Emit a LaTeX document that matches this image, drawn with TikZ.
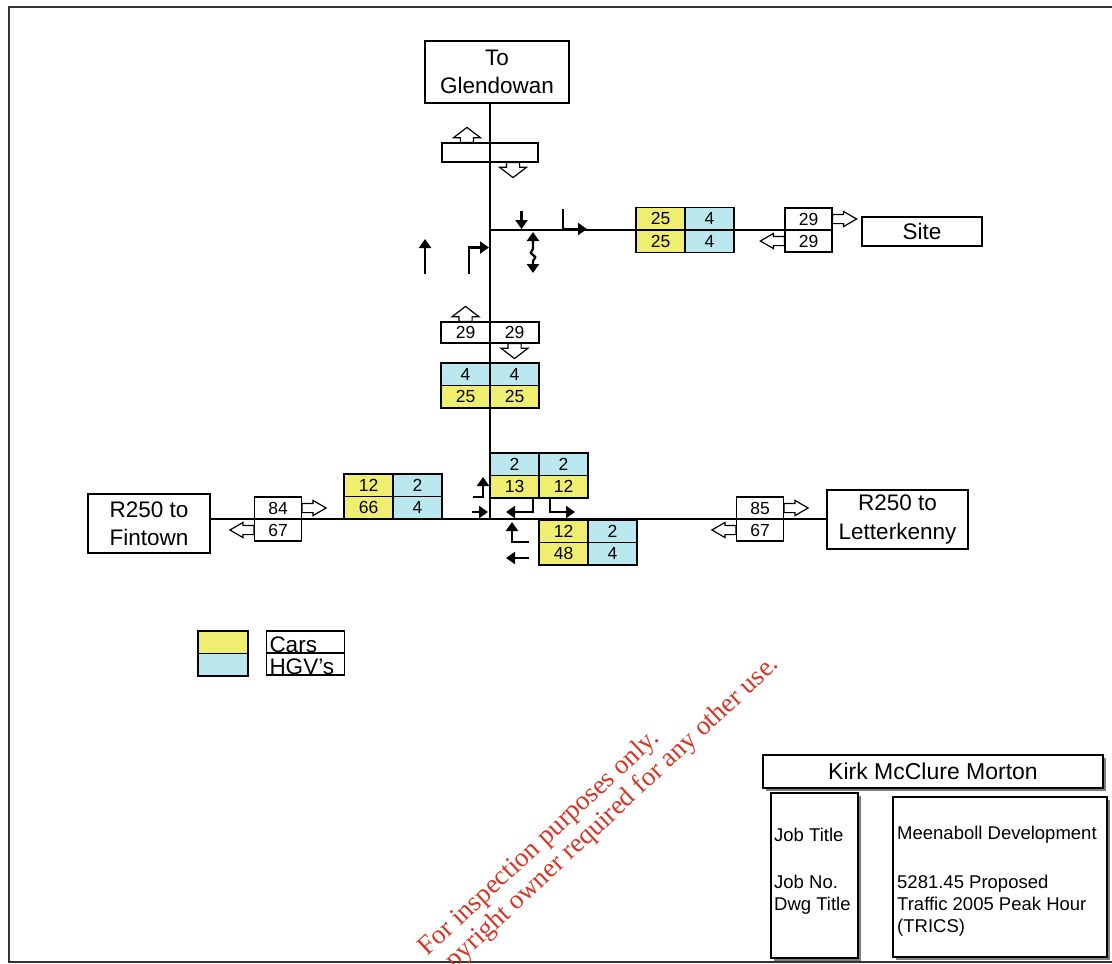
\documentclass[tikz,border=0pt]{standalone}
\usepackage{fontspec}
\setmainfont{Liberation Sans}
\newfontfamily\stampfont{Liberation Serif}
\usepackage{tikz}
\usetikzlibrary{arrows.meta,positioning,shapes.arrows,shadows,calc}
\definecolor{carfill}{RGB}{240,238,112}
\definecolor{hgvfill}{RGB}{186,232,238}
\definecolor{stampred}{RGB}{214,52,36}
\newcommand{\numfont}{\fontsize{17.5}{20}\selectfont}
\newcommand{\lblfont}{\fontsize{22.5}{28.5}\selectfont}
\newcommand{\tbfont}{\fontsize{18.5}{22}\selectfont}

\begin{document}
\begin{tikzpicture}[
      x=1pt, y=-1pt, node distance=0pt,
      road/.style={line width=1.3pt},
      place/.style={draw, line width=1.3pt, inner sep=0pt, align=center, font=\lblfont},
      cell/.style={draw, line width=1.8pt, minimum width=49pt, minimum height=22.5pt, inner sep=0pt, outer sep=0pt, font=\numfont},
      car/.style={cell, fill=carfill},
      hgv/.style={cell, fill=hgvfill},
      flow/.style={draw, line width=1.1pt, minimum width=47pt, minimum height=22pt, inner sep=0pt, outer sep=0pt, font=\numfont},
      harrow/.style={single arrow, draw, fill=white, line width=1.2pt, inner xsep=0pt, single arrow head indent=0pt, anchor=tail},
      hflow/.style={harrow, inner ysep=4pt, single arrow head extend=3pt, single arrow tip angle=60, minimum height=24pt},
      vflow/.style={harrow, inner ysep=6pt, single arrow head extend=7pt, single arrow tip angle=105, minimum height=15pt},
      mv/.style={line width=2.2pt, -{Triangle[length=9pt, width=12pt]}},
      key/.style={draw, line width=1.3pt, text width=72pt, inner xsep=3pt, inner ysep=0.5pt, text height=21pt, text depth=0pt, outer sep=0pt, align=left, font=\lblfont},
      tbox/.style={draw, line width=1.2pt, fill=white, drop shadow={shadow xshift=2.5pt, shadow yshift=-2.5pt, fill=black!50, opacity=1}},
      tbtext/.style={inner sep=0pt, anchor=west, align=left, font=\tbfont},
      stamp/.style={text=stampred, font=\stampfont\fontsize{27}{32}\selectfont, rotate=43, inner sep=0pt}
    ]
  \useasboundingbox (0,0) rectangle (1112,964);
  \draw[line width=1.5pt, black!80] (1130,7) -- (9,7) -- (9,962) -- (1130,962);

  % destinations
  \node[place, minimum width=144pt, minimum height=62pt] (glen) at (497,72) {To\\Glendowan};
  \node[place, minimum width=120pt, minimum height=29pt] (site) at (922,231.5) {Site};
  \node[place, minimum width=122pt, minimum height=59pt] (fin) at (149,523.5) {R250 to\\Fintown};
  \node[place, minimum width=141pt, minimum height=59pt] (lk) at (897.5,519.5) {R250 to\\Letterkenny};

  \coordinate (jn) at (490,519);
  \coordinate (sj) at (490,230);

  % link totals
  \node[flow] (s29a) at (808.5,219) {29};
  \node[flow, below=of s29a] (s29b) {29};
  \node[flow] (f84) at (278,508) {84};
  \node[flow, below=of f84] (f67) {67};
  \node[flow] (l85) at (760,508) {85};
  \node[flow, below=of l85] (l67) {67};

  % roads
  \draw[road] (glen.south -| jn) -- (jn);
  \draw[road] (sj) -- (s29a.south west);
  \draw[road] (fin.east |- jn) -- (lk.west |- jn);

  \node[hflow] (s29out) at (s29a.east) {};
  \node[hflow, rotate=180] (s29in) at (s29b.west) {};
  \node[hflow] (f84out) at (f84.east) {};
  \node[hflow, rotate=180] (f67in) at (f67.west) {};
  \node[hflow] (l85out) at (l85.east) {};
  \node[hflow, rotate=180] (l67in) at (l67.west) {};

  % north link
  \node[draw, line width=1.2pt, minimum width=96pt, minimum height=19pt, inner sep=0pt, outer sep=0pt] (gflow) at (490,152.5) {};
  \node[vflow, rotate=90] (gup) at ($(gflow.north west)!0.26!(gflow.north east)$) {};
  \node[vflow, rotate=-90] (gdn) at ($(gflow.south west)!0.74!(gflow.south east)$) {};

  \node[flow, minimum width=49pt, minimum height=21pt] (m29a) at (465.5,332.5) {29};
  \node[flow, minimum width=49pt, minimum height=21pt, right=of m29a] (m29b) {29};
  \node[vflow, rotate=90] (mup) at (m29a.north) {};
  \node[vflow, rotate=-90] (mdn) at (m29b.south) {};

  % turning counts
  \node[hgv] (mt1) at (465.5,374.25) {4};
  \node[hgv, right=of mt1] (mt2) {4};
  \node[car, below=of mt1] (mt3) {25};
  \node[car, right=of mt3] (mt4) {25};

  \node[car] (st1) at (660.5,218.75) {25};
  \node[hgv, right=of st1] (st2) {4};
  \node[car, below=of st1] (st3) {25};
  \node[hgv, right=of st3] (st4) {4};

  \node[hgv] (jt1) at (514.5,464.25) {2};
  \node[hgv, right=of jt1] (jt2) {2};
  \node[car, below=of jt1] (jt3) {13};
  \node[car, right=of jt3] (jt4) {12};

  \node[car] (lt1) at (368.5,485.25) {12};
  \node[hgv, right=of lt1] (lt2) {2};
  \node[car, below=of lt1] (lt3) {66};
  \node[hgv, right=of lt3] (lt4) {4};

  \node[car] (bt1) at (563.5,531.25) {12};
  \node[hgv, right=of bt1] (bt2) {2};
  \node[car, below=of bt1] (bt3) {48};
  \node[hgv, right=of bt3] (bt4) {4};

  % movements at site access
  \draw[mv] (521.5,211) -- (521.5,229);
  \draw[mv] (563,209) -- (563,229) -- (587,229);
  \draw[line width=2.2pt, line join=round, {Triangle[length=9pt, width=12pt]}-{Triangle[length=9pt, width=12pt]}]
    (533,232) -- (533,249) -- (530.5,253) -- (535.5,257) -- (533,261) -- (533,273);
  \draw[mv] (425,274) -- (425,239);
  \draw[mv] (469,274) -- (469,247.5) -- (489,247.5);

  % movements at R250 junction
  \draw[mv] (473,497) -- (483,497) -- (483,477);
  \draw[mv] (472,512) -- (488,512);
  \draw[mv] (533,499) -- (533,512) -- (506,512);
  \draw[mv] (550,499) -- (550,512) -- (575,512);
  \draw[mv] (529,542) -- (512,542) -- (512,522);
  \draw[mv] (529,558) -- (506,558);

  % key
  \node[car, minimum width=50pt, line width=1.5pt] (kcar) at (223,642) {};
  \node[hgv, minimum width=50pt, line width=1.5pt, below=of kcar] (khgv) {};
  \node[key] (kcartxt) at (305.5,642) {Cars};
  \node[key, below=of kcartxt] (khgvtxt) {HGV's};

  % title block
  \node[tbox, minimum width=340pt, minimum height=33pt, font=\fontsize{23}{27}\selectfont] (firm) at (933,771.5) {Kirk McClure Morton};
  \node[tbox, minimum width=87pt, minimum height=165pt] (tbl) at (814.5,875.5) {};
  \node[tbox, minimum width=214pt, minimum height=160pt] (tbr) at (1000,877) {};
  \node[tbtext] (jtitle) at (774,835) {Job Title};
  \node[tbtext] (jno) at (774,895) {Job No.\\Dwg Title};
  \node[tbtext] (jname) at (897,835) {Meenaboll Development};
  \node[tbtext] (jdesc) at (897,906) {5281.45 Proposed\\Traffic 2005 Peak Hour\\(TRICS)};

  % stamp
  \node[stamp, anchor=base] (wm1) at (544,848.5) {For inspection purposes only.};
  \node[stamp, anchor=base east] (wm2) at (780,666) {pyright owner required for any other use.};
\end{tikzpicture}
\end{document}
